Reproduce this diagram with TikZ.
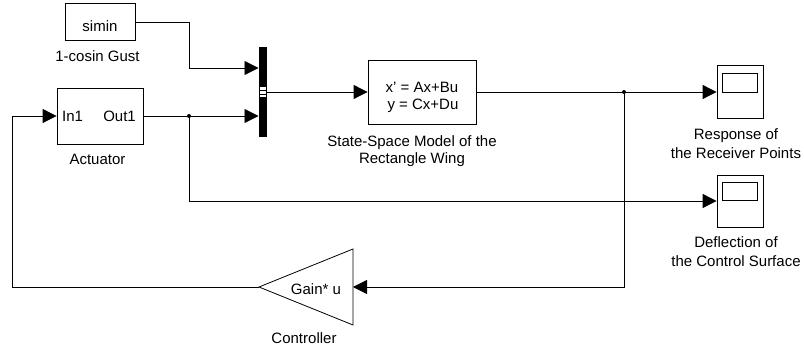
\documentclass[tikz,border=0pt]{standalone}
\usepackage{fontspec}
\setmainfont{Liberation Sans}
\usetikzlibrary{arrows.meta,calc}
\begin{document}
\begin{tikzpicture}[x=1pt,y=-1pt,
  font=\fontsize{15}{18}\selectfont,
  blk/.style={draw,line width=0.8pt,inner sep=0pt,fill=white},
  sig/.style={line width=0.8pt,-{Triangle[length=14pt,width=14pt]}},
  wire/.style={line width=0.8pt},
  lbl/.style={align=center,inner sep=0pt,anchor=base},
  jdot/.style={circle,fill,inner sep=0pt,minimum size=4pt}]
\useasboundingbox (0,0) rectangle (804,352);
\fill[white] (0,0) rectangle (804,352);

% blocks
\node[blk,minimum width=70pt,minimum height=37pt] (simin) at (100,22) {};
\node[inner sep=0pt,anchor=base] (simintxt) at (100,31.5) {simin};
\node[lbl] (gustlbl) at (97.5,61.5) {1-cosin Gust};

\node[blk,minimum width=86pt,minimum height=56pt] (act) at (100,116) {};
\node[inner sep=0pt,anchor=base west] (in1) at (62,121.5) {In1};
\node[inner sep=0pt,anchor=base east] (out1) at (136,121.5) {Out1};
\node[lbl] (actlbl) at (97.5,165) {Actuator};

\node[fill=black,minimum width=8pt,minimum height=90pt,inner sep=0pt] (mux) at (262.5,92) {};
\fill[white] (259.5,87.5) rectangle (265.5,97.5);
\draw[line width=0.7pt] (259.5,90.8) -- (265.5,90.8) (259.5,94.2) -- (265.5,94.2);

\node[blk,minimum width=108pt,minimum height=64pt] (ss) at (422,92) {};
\node[inner sep=0pt,anchor=base] (ss1) at (422,93) {x' = Ax+Bu};
\node[inner sep=0pt,anchor=base] (ss2) at (423,109.5) {y = Cx+Du};
\node[lbl,font=\fontsize{15}{17}\selectfont] (sslbl) at (412,163.5) {State-Space Model of the\\Rectangle Wing};

\node[blk,minimum width=46pt,minimum height=53pt] (sc1) at (740,92) {};
\draw[line width=0.8pt] ($(sc1.north west)+(6,8)$) rectangle ($(sc1.north west)+(41,27)$);
\node[lbl,font=\fontsize{15}{19}\selectfont] (sc1lbl) at (736,159) {Response of\\the Receiver Points};

\node[blk,minimum width=46pt,minimum height=52pt] (sc2) at (740,201) {};
\draw[line width=0.8pt] ($(sc2.north west)+(6,8)$) rectangle ($(sc2.north west)+(41,26)$);
\node[lbl,font=\fontsize{15}{19}\selectfont] (sc2lbl) at (736,267) {Deflection of\\the Control Surface};

% gain
\coordinate (gout) at (259,287);
\coordinate (gin) at (353,287);
\draw[line width=0.8pt] (gout) -- (353,249) -- (353,325) -- cycle;
\node[inner sep=0pt,anchor=base] (gaintxt) at (316,295) {Gain* u};
\node[lbl] (ctrllbl) at (304,344) {Controller};

% connector points
\coordinate (b1) at (189,68);
\coordinate (mi1) at (258.5,68);
\coordinate (mi2) at (258.5,116);
\coordinate (j1) at (189,116);
\coordinate (j2) at (624,92);
\coordinate (fb) at (12,287);

% connectors
\draw[sig] (simin.east) -| (b1) -- (mi1);
\draw[sig] (act.east) -- (mi2);
\draw[sig] (j1) |- (sc2.west);
\draw[sig] (mux.east) -- (ss.west);
\draw[sig] (ss.east) -- (sc1.west);
\draw[sig] (j2) |- (gin);
\draw[sig] (gout) -- (fb) |- (act.west);
\node[jdot] at (j1) {};
\node[jdot] at (j2) {};
\end{tikzpicture}
\end{document}
